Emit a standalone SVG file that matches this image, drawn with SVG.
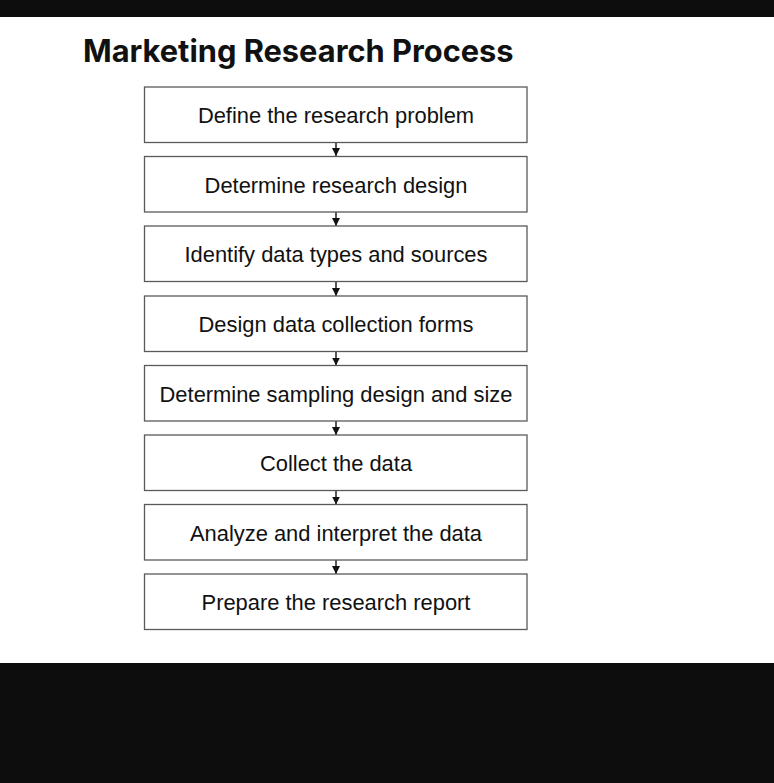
<svg xmlns="http://www.w3.org/2000/svg" width="774" height="783" viewBox="0 0 774 783">
<style>
.box{fill:#fff;stroke:#5a5a5a;stroke-width:1.3}
.lbl{font-family:"Liberation Sans",Arial,sans-serif;font-size:21.9px;fill:#111;text-anchor:middle}
.title{font-family:Inter,"Liberation Sans",sans-serif;font-weight:700;font-size:30.8px;fill:#111}
.conn{stroke:#111;stroke-width:1.4;fill:none}
</style>
<defs>
<marker id="ah" markerWidth="10" markerHeight="10" refX="8" refY="4.5" orient="auto" markerUnits="userSpaceOnUse">
<path d="M0,0.5 L8,4.5 L0,8.5 Z" fill="#111"/>
</marker>
</defs>
<rect x="0" y="0" width="774" height="783" fill="#0d0d0d"/>
<rect x="0" y="17" width="774" height="646" fill="#fff"/>
<text class="title" x="83" y="61.5">Marketing Research Process</text>
<g id="connectors">
<line class="conn" x1="336" y1="142.5" x2="336" y2="156" marker-end="url(#ah)"/>
<line class="conn" x1="336" y1="212" x2="336" y2="226" marker-end="url(#ah)"/>
<line class="conn" x1="336" y1="282" x2="336" y2="296" marker-end="url(#ah)"/>
<line class="conn" x1="336" y1="351.5" x2="336" y2="365.5" marker-end="url(#ah)"/>
<line class="conn" x1="336" y1="421" x2="336" y2="435" marker-end="url(#ah)"/>
<line class="conn" x1="336" y1="490.5" x2="336" y2="504.5" marker-end="url(#ah)"/>
<line class="conn" x1="336" y1="560" x2="336" y2="574" marker-end="url(#ah)"/>
</g>
<g id="n1"><rect class="box" x="144.5" y="87" width="382.5" height="55.5"/><text class="lbl" x="336" y="123">Define the research problem</text></g>
<g id="n2"><rect class="box" x="144.5" y="156.5" width="382.5" height="55.5"/><text class="lbl" x="336" y="192.5">Determine research design</text></g>
<g id="n3"><rect class="box" x="144.5" y="226" width="382.5" height="55.5"/><text class="lbl" x="336" y="262">Identify data types and sources</text></g>
<g id="n4"><rect class="box" x="144.5" y="296" width="382.5" height="55.5"/><text class="lbl" x="336" y="332">Design data collection forms</text></g>
<g id="n5"><rect class="box" x="144.5" y="365.5" width="382.5" height="55.5"/><text class="lbl" x="336" y="401.5">Determine sampling design and size</text></g>
<g id="n6"><rect class="box" x="144.5" y="435" width="382.5" height="55.5"/><text class="lbl" x="336" y="471">Collect the data</text></g>
<g id="n7"><rect class="box" x="144.5" y="504.5" width="382.5" height="55.5"/><text class="lbl" x="336" y="540.5">Analyze and interpret the data</text></g>
<g id="n8"><rect class="box" x="144.5" y="574" width="382.5" height="55.5"/><text class="lbl" x="336" y="610">Prepare the research report</text></g>
</svg>
